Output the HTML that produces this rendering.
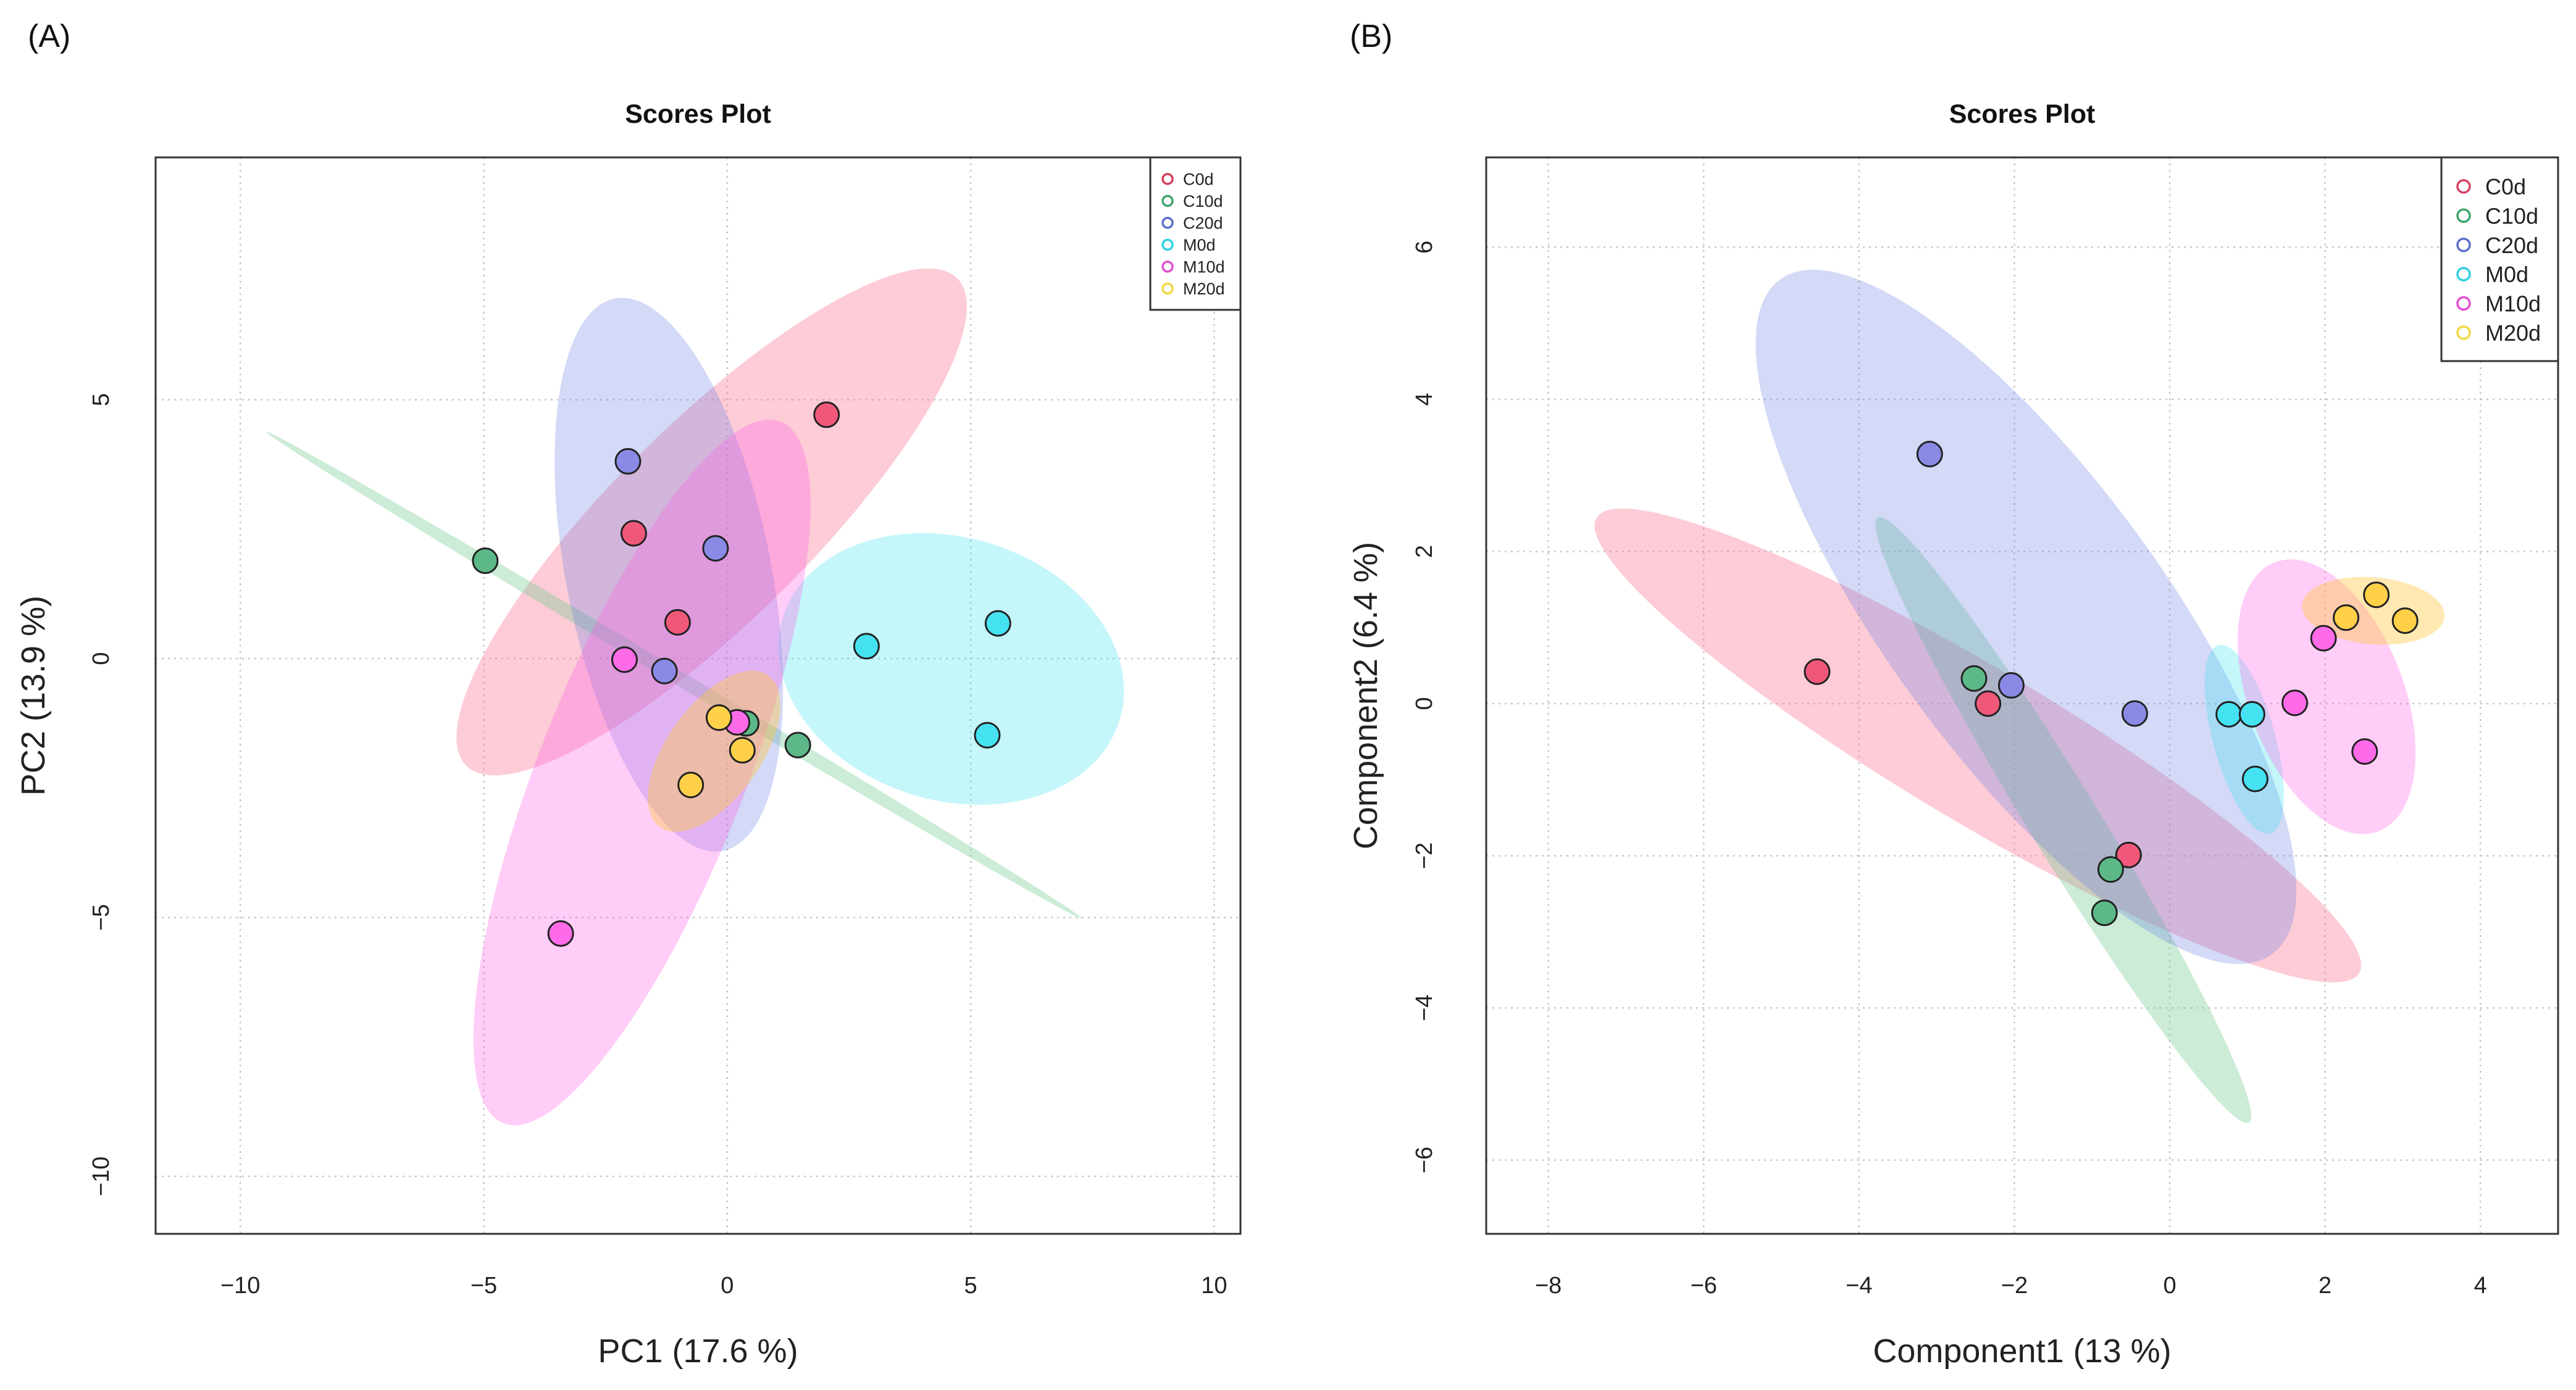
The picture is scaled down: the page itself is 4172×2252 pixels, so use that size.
<!DOCTYPE html>
<html><head><meta charset="utf-8">
<style>
html,body{margin:0;padding:0;background:#fff;}
svg{display:block;font-family:"Liberation Sans",Arial,sans-serif;}
</style></head>
<body>
<svg id="chart" width="4172" height="2252" viewBox="0 0 4172 2252" xmlns="http://www.w3.org/2000/svg">
<rect width="4172" height="2252" fill="#fff"/>
</svg>
<script>
// ---- shared ----
const groups = ["C0d","C10d","C20d","M0d","M10d","M20d"];
const legendColors = ["#d6405e","#3fa36b","#5b6fc9","#2fd0e0","#e04fd0","#f0d840"];
const pointColors = ["#f0587a","#5cb887","#8a8ae6","#45e2f2","#ff6ae8","#ffd048"];
const fillColors = ["rgba(250,120,150,0.38)","rgba(110,200,140,0.35)","rgba(110,130,225,0.30)","rgba(60,225,240,0.30)","rgba(255,90,230,0.30)","rgba(255,200,70,0.42)"];

// ---- panel A data (PC1, PC2) ----
const aX = [[2.04,-1.92,-1.02],[-4.97,0.39,1.45],[-2.04,-0.24,-1.29],[2.86,5.56,5.34],[-2.11,-3.42,0.2],[-0.17,0.31,-0.75]];
const aY = [[4.71,2.42,0.70],[1.89,-1.25,-1.67],[3.81,2.13,-0.24],[0.24,0.68,-1.48],[-0.02,-5.31,-1.23],[-1.14,-1.77,-2.44]];
// ellipses: center x, center y, semi-major, semi-minor, angle(deg)
const aEllCx = [-0.32,-1.09,-1.2,4.6,-1.75,-0.27];
const aEllCy = [2.64,-0.32,1.62,-0.2,-2.2,-1.79];
const aEllA = [6.9,9.6,5.45,3.6,7.35,1.84];
const aEllB = [1.96,0.14,2.1,2.55,2.1,0.94];
const aEllAng = [42.7,-29.3,102,-14,67,51.5];
const aXTicks = [-10,-5,0,5,10];
const aYTicks = [5,0,-5,-10];

// ---- panel B data (Component1, Component2) ----
const bX = [[-4.54,-2.34,-0.53],[-2.52,-0.76,-0.84],[-3.09,-2.04,-0.45],[0.76,1.06,1.10],[1.61,1.98,2.51],[2.27,2.66,3.03]];
const bY = [[0.42,0,-1.99],[0.33,-2.18,-2.75],[3.28,0.24,-0.13],[-0.14,-0.14,-0.99],[0.01,0.86,-0.63],[1.13,1.43,1.09]];
const bEllCx = [-2.47,-1.37,-1.85,0.96,2.02,2.62];
const bEllCy = [-0.55,-1.53,1.14,-0.47,0.09,1.22];
const bEllA = [5.75,4.64,5.45,1.28,1.89,0.92];
const bEllB = [1.0,0.45,1.8,0.4,1.0,0.44];
const bEllAng = [-31.4,121,125.4,105,110.4,-5];
const bXTicks = [-8,-6,-4,-2,0,2,4];
const bYTicks = [6,4,2,0,-2,-4,-6];

const NS = "http://www.w3.org/2000/svg";
const svg = document.getElementById("chart");
function mk(tag, attrs, parent, text){
  const e = document.createElementNS(NS, tag);
  for (const k in attrs) e.setAttribute(k, attrs[k]);
  if (text !== undefined) e.textContent = text;
  (parent||svg).appendChild(e);
  return e;
}
function fmt(v){ return v < 0 ? "\u2212" + Math.abs(v) : String(v); }

function panel(cfg){
  const g = mk("g", {});
  
  
  const sx = v => cfg.left + (v - cfg.xmin) / (cfg.xmax - cfg.xmin) * (cfg.right - cfg.left);
  const sy = v => cfg.bottom - (v - cfg.ymin) / (cfg.ymax - cfg.ymin) * (cfg.bottom - cfg.top);

  const lab = mk("text", {x: cfg.labX, y: 76, "font-size": 52, fill: "#111"}, g, cfg.letter);
  
  
  const t = mk("text", {x: (cfg.left+cfg.right)/2, y: 199, "font-size": 43, "font-weight": "bold", "text-anchor": "middle", fill: "#111"}, g, "Scores Plot");
  
  

  const grid = mk("g", {stroke: "#c8c8c8", "stroke-width": 2.5, "stroke-dasharray": "3 7"}, g);
  
  
  cfg.xt.forEach(v => { const l = mk("line", {x1: sx(v), x2: sx(v), y1: cfg.top, y2: cfg.bottom}, grid);
      });
  cfg.yt.forEach(v => { const l = mk("line", {x1: cfg.left, x2: cfg.right, y1: sy(v), y2: sy(v)}, grid);
      });

  for (let i = 0; i < groups.length; i++){
    const ang = cfg.eAng[i] * Math.PI / 180, pts = [];
    for (let k = 0; k < 120; k++){
      const th = k / 120 * 2 * Math.PI;
      const u = cfg.eA[i] * Math.cos(th), w = cfg.eB[i] * Math.sin(th);
      const dx = cfg.eCx[i] + u * Math.cos(ang) - w * Math.sin(ang);
      const dy = cfg.eCy[i] + u * Math.sin(ang) + w * Math.cos(ang);
      pts.push(sx(dx).toFixed(1) + "," + sy(dy).toFixed(1));
    }
    const p = mk("polygon", {points: pts.join(" "), fill: fillColors[i], stroke: "none"}, g);
    
    
  }
  for (let i = 0; i < groups.length; i++){
    for (let j = 0; j < cfg.px[i].length; j++){
      const c = mk("circle", {cx: sx(cfg.px[i][j]), cy: sy(cfg.py[i][j]), r: cfg.r, fill: pointColors[i], stroke: "#222", "stroke-width": 3}, g);
      
      
    }
  }
  const fr = mk("rect", {x: cfg.left, y: cfg.top, width: cfg.right-cfg.left, height: cfg.bottom-cfg.top, fill: "none", stroke: "#333", "stroke-width": 3}, g);
  
  
  cfg.xt.forEach(v => { const tx = mk("text", {x: sx(v), y: 2095, "font-size": 38, "text-anchor": "middle", fill: "#222"}, g, fmt(v));
      });
  cfg.yt.forEach(v => { const tx = mk("text", {x: 0, y: 0, "font-size": 38, "text-anchor": "middle", fill: "#222", transform: "translate(" + (cfg.ytX) + "," + sy(v) + ") rotate(-90)"}, g, fmt(v));
      });
  const xl = mk("text", {x: (cfg.left+cfg.right)/2, y: 2207, "font-size": 54, "text-anchor": "middle", fill: "#222"}, g, cfg.xlabel);
  
  
  const yl = mk("text", {x: 0, y: 0, "font-size": 54, "text-anchor": "middle", fill: "#222", transform: "translate(" + cfg.ylX + "," + ((cfg.top+cfg.bottom)/2) + ") rotate(-90)"}, g, cfg.ylabel);
  
  

  const lg = mk("g", {}, g);
  
  
  mk("rect", {x: cfg.lgX, y: cfg.top, width: cfg.right - cfg.lgX, height: cfg.lgH, fill: "#fff", stroke: "#333", "stroke-width": 3}, lg);
  for (let i = 0; i < groups.length; i++){
    const yy = cfg.lgY0 + i * cfg.lgDy;
    const e = mk("g", {}, lg);
    
    
    mk("circle", {cx: cfg.lgCx, cy: yy, r: cfg.lgR, fill: "none", stroke: legendColors[i], "stroke-width": 3.5}, e);
    mk("text", {x: cfg.lgTx, y: yy + cfg.lgFs*0.36, "font-size": cfg.lgFs, fill: "#222"}, e, groups[i]);
  }
}

panel({id:"a", letter:"(A)", labX:45, left:252, right:2009, top:255, bottom:1999,
  xmin:-11.74, xmax:10.54, ymin:-11.11, ymax:9.68, xt:aXTicks, yt:aYTicks,
  px:aX, py:aY, eCx:aEllCx, eCy:aEllCy, eA:aEllA, eB:aEllB, eAng:aEllAng, r:20,
  ytX:176, ylX:72, xlabel:"PC1 (17.6 %)", ylabel:"PC2 (13.9 %)",
  lgX:1863, lgH:247, lgY0:290, lgDy:35.5, lgCx:1891, lgTx:1916, lgR:8, lgFs:27});

panel({id:"b", letter:"(B)", labX:2186, left:2407, right:4143, top:255, bottom:1999,
  xmin:-8.8, xmax:5.0, ymin:-6.97, ymax:7.18, xt:bXTicks, yt:bYTicks,
  px:bX, py:bY, eCx:bEllCx, eCy:bEllCy, eA:bEllA, eB:bEllB, eAng:bEllAng, r:20,
  ytX:2319, ylX:2230, xlabel:"Component1  (13 %)", ylabel:"Component2 (6.4 %)",
  lgX:3954, lgH:330, lgY0:302, lgDy:47.4, lgCx:3990, lgTx:4025, lgR:10, lgFs:36});
</script>
</body></html>
